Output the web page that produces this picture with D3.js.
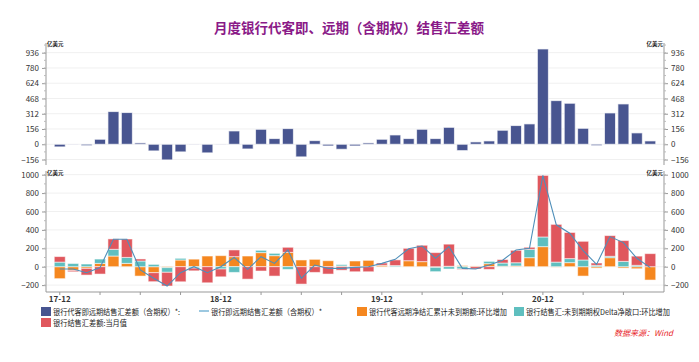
<!DOCTYPE html>
<html><head><meta charset="utf-8">
<script src="https://cdn.jsdelivr.net/npm/d3@7"></script>
<style>
body{margin:0;background:#fff;}
text{font-family:"Noto Sans CJK SC","Noto Sans",sans-serif;}
</style></head>
<body><svg id="c" width="699" height="362"></svg>
<script>
const months = ["17-12","18-01","18-02","18-03","18-04","18-05","18-06","18-07","18-08","18-09","18-10","18-11",
"18-12","19-01","19-02","19-03","19-04","19-05","19-06","19-07","19-08","19-09","19-10","19-11",
"19-12","20-01","20-02","20-03","20-04","20-05","20-06","20-07","20-08","20-09","20-10","20-11",
"20-12","21-01","21-02","21-03","21-04","21-05","21-06","21-07","21-08"];
const clientNet = [-27,-3,-14,51,334,324,14,-68,-160,-78,-3,-88,-3,136,-48,153,58,160,-129,37,-17,-51,-17,14,
51,95,58,153,58,173,-65,24,34,143,191,208,974,446,419,163,-14,320,412,116,34];
const bankNet = [-25,-25,-65,-10,298,298,-35,-125,-210,-65,0,-65,0,100,-29,109,36,182,-127,18,-18,-18,-7,0,
36,80,195,225,91,218,-18,-25,18,70,182,200,993,455,364,175,25,327,262,91,-10];
const forwardChg = [-130,-40,-18,36,116,36,-102,-65,-10,73,82,116,120,109,116,153,120,156,73,80,65,8,62,69,
15,0,65,55,-7,5,12,8,33,5,8,98,218,-5,44,-102,-15,98,-15,-22,-145];
const optionChg = [50,35,29,47,73,65,62,25,-51,18,-15,0,-25,-62,0,25,25,-29,0,0,0,15,0,0,
0,12,0,0,-47,-25,-25,0,25,35,35,91,105,50,44,73,15,15,58,15,0];
const spotNet = [60,-15,-73,-80,113,200,22,-98,-149,-164,-30,-175,-85,73,-135,-47,-102,55,-189,-62,-80,-38,-55,-55,
25,62,135,178,153,240,-5,-25,-29,38,135,22,669,410,284,203,25,225,226,100,142];
const topTicks = [-156,0,156,312,468,624,780,936];
const botTicks = [-200,0,200,400,600,800,1000];
const xLabels = ["17-12","18-12","19-12","20-12"];

const C = {blue:"#485590", line:"#4f8fb9", orange:"#f5871f", teal:"#5fbfbf", red:"#e0575d"};
const svg = d3.select("#c");
const L = 46, R = 664;

svg.append("text").attr("x",349).attr("y",33).attr("text-anchor","middle")
  .attr("font-size",13.5).attr("font-weight","bold").attr("fill","#8a1a88")
  .text("月度银行代客即、远期（含期权）结售汇差额");

const x = d3.scaleBand().domain(months).range([L,R]).paddingInner(0.18).paddingOuter(0.615);
const cx = m => x(m) + x.bandwidth()/2;

const yT = d3.scaleLinear().domain([-212,1035]).range([165,43]);
const yB = d3.scaleLinear().domain([-275,1040]).range([292,171]);

function axes(y, ticks, minorStep, y0, y1){
  const g = svg.append("g");
  g.selectAll(".grid").data(ticks).join("line")
    .attr("x1",L).attr("x2",R).attr("y1",d=>y(d)).attr("y2",d=>y(d))
    .attr("stroke","#f0f0f0").attr("stroke-width",1);
  const fmt = d3.format("d");
  const left = d3.axisLeft(y).tickValues(ticks).tickFormat(fmt).tickSize(4).tickSizeOuter(0);
  const right = d3.axisRight(y).tickValues(ticks).tickFormat(fmt).tickSize(4).tickSizeOuter(0);
  const minor = d3.range(Math.ceil(y.domain()[0]/minorStep)*minorStep, y.domain()[1], minorStep);
  [[left,L,-1],[right,R,1]].forEach(([ax,px,s])=>{
    const a = g.append("g").attr("transform",`translate(${px},0)`).call(ax);
    a.select(".domain").attr("d",`M0,${y0}V${y1}`).attr("stroke","#999");
    a.selectAll(".tick line").attr("stroke","#999");
    a.selectAll(".tick text").attr("font-size",8).attr("fill","#333")
      .attr("font-family","Liberation Sans, Arial, sans-serif");
    a.selectAll(".minor").data(minor).join("line").attr("class","minor")
      .attr("x1",0).attr("x2",2*s).attr("y1",d=>y(d)).attr("y2",d=>y(d)).attr("stroke","#bbb");
  });
}
axes(yT, topTicks, 78, 43, 165);
axes(yB, botTicks, 100, 171, 292);

// unit labels
[[47,46,"start"],[663,46,"end"],[47,175,"start"],[663,175,"end"]].forEach(([tx,ty,an])=>{
  svg.append("text").attr("x",tx).attr("y",ty).attr("text-anchor",an)
    .attr("font-size",5.5).attr("font-weight","bold").attr("fill","#222").text("亿美元");
});

// top bars
svg.append("g").selectAll("rect").data(months).join("rect")
  .attr("x",d=>x(d)).attr("width",x.bandwidth())
  .attr("y",(d,i)=>yT(Math.max(0,clientNet[i])))
  .attr("height",(d,i)=>Math.abs(yT(clientNet[i])-yT(0)))
  .attr("fill",C.blue).attr("stroke","#fff").attr("stroke-opacity",0.7).attr("stroke-width",1);

// bottom stacked bars
const table = months.map((m,i)=>({m, forward:forwardChg[i], option:optionChg[i], spot:spotNet[i]}));
const keys = ["forward","option","spot"];
const colors = {forward:C.orange, option:C.teal, spot:C.red};
const series = d3.stack().keys(keys).offset(d3.stackOffsetDiverging)(table);
svg.append("g").selectAll("g").data(series).join("g").attr("fill",d=>colors[d.key])
  .selectAll("rect").data(d=>d).join("rect")
  .attr("x",d=>x(d.data.m)).attr("width",x.bandwidth())
  .attr("y",d=>yB(Math.max(d[0],d[1]))).attr("height",d=>Math.abs(yB(d[0])-yB(d[1])))
  .attr("stroke","#fff").attr("stroke-opacity",0.55).attr("stroke-width",1);

// line
svg.append("path").datum(months)
  .attr("d",d3.line().x(m=>cx(m)).y((m,i)=>yB(bankNet[i])))
  .attr("fill","none").attr("stroke",C.line).attr("stroke-width",1.1);

// x axis
const xa = svg.append("g").attr("transform","translate(0,292)");
xa.append("line").attr("x1",L).attr("x2",R).attr("stroke","#999");
const tickMonths = months.filter((m,i)=>i%3===0);
xa.selectAll(".xt").data(tickMonths).join("line").attr("x1",cx).attr("x2",cx)
  .attr("y1",0).attr("y2",3).attr("stroke","#999");
xa.selectAll(".xl").data(xLabels).join("text").attr("x",cx).attr("y",10)
  .attr("text-anchor","middle").attr("font-size",8).attr("font-weight","bold").attr("fill","#333")
  .attr("font-family","Liberation Sans, Arial, sans-serif").text(d=>d);

// legend
const lg = svg.append("g");
function txt(x0,y0,label,w){
  lg.append("text").attr("x",x0).attr("y",y0).attr("font-size",8).attr("fill","#222")
    .attr("textLength",w).attr("lengthAdjust","spacingAndGlyphs").text(label);
}
function sq(x0,y0,col,label,w){
  lg.append("rect").attr("x",x0).attr("y",y0).attr("width",10).attr("height",9).attr("fill",col);
  txt(x0+12,y0+8,label,w);
}
sq(41,307,C.blue,"银行代客即远期结售汇差额（含期权）*:",127);
lg.append("line").attr("x1",199).attr("x2",209).attr("y1",311).attr("y2",311).attr("stroke","#9cc8e0").attr("stroke-width",2);
txt(211,315,"银行即远期结售汇差额（含期权）*",111);
sq(357,307,C.orange,"银行代客远期净结汇累计未到期额:环比增加",138);
sq(514,307,C.teal,"银行结售汇:未到期期权Delta净敞口:环比增加",144);
sq(41,318,C.red,"银行结售汇差额:当月值",74);

svg.append("text").attr("x",673).attr("y",336).attr("text-anchor","end")
  .attr("font-size",8).attr("font-style","italic").attr("fill","#e8262a").text("数据来源：Wind");
</script></body></html>
